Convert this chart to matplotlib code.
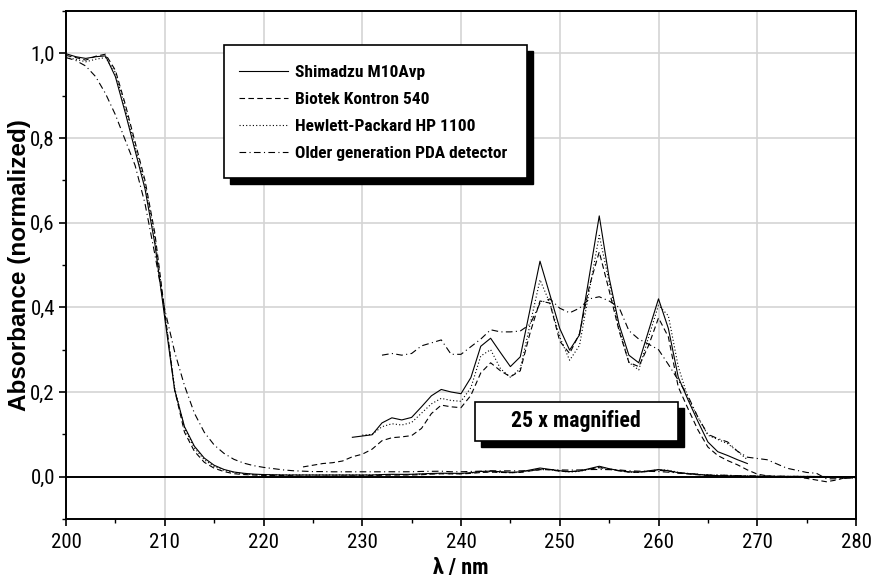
import matplotlib
matplotlib.use("Agg")
import matplotlib.pyplot as plt
from matplotlib import font_manager
from matplotlib.patches import Rectangle
from matplotlib.ticker import MultipleLocator, FuncFormatter
import numpy as np

# pick a narrow Arial-like face if one is installed, else regular Liberation Sans
narrow = None
for cand in ['Liberation Sans Narrow', 'Arial Narrow', 'Roboto Condensed']:
    try:
        font_manager.findfont(font_manager.FontProperties(family=cand), fallback_to_default=False)
        narrow = cand
        break
    except ValueError:
        pass
plt.rcParams['font.family'] = ['Liberation Sans', 'DejaVu Sans']
txt_family = [narrow, 'Liberation Sans', 'DejaVu Sans'] if narrow else ['Liberation Sans', 'DejaVu Sans']
k = 1.0 if narrow else 0.82   # size factor when no narrow face exists

# ---------------- data ----------------
wl = np.arange(200, 281)  # nm, full spectra

shimadzu = [0.999, 0.992, 0.988, 0.992, 0.994, 0.945, 0.86, 0.77, 0.68, 0.55,
            0.375, 0.205, 0.118, 0.072, 0.044, 0.027, 0.017, 0.011, 0.008, 0.006,
            0.005, 0.0045, 0.004, 0.004, 0.004, 0.004, 0.004, 0.004, 0.004, 0.004,
            0.004, 0.004, 0.005, 0.0056, 0.0054, 0.0056, 0.0066, 0.0076, 0.0082, 0.008,
            0.0078, 0.0094, 0.0123, 0.0131, 0.0117, 0.0104, 0.0113, 0.0158, 0.0204, 0.0172,
            0.014, 0.012, 0.0134, 0.019, 0.0246, 0.0188, 0.0144, 0.0115, 0.0108, 0.0138,
            0.0168, 0.014, 0.0094, 0.0072, 0.0052, 0.0033, 0.0024, 0.002, 0.0016, 0.0012,
            0.001, 0.0009, 0.0008, 0.0007, 0.0006, 0.0005, 0.0004, 0.0003, 0.0002, 0.0001, 0.0]

biotek = [0.995, 0.99, 0.984, 0.993, 0.998, 0.96, 0.88, 0.79, 0.70, 0.575,
          0.39, 0.205, 0.105, 0.06, 0.034, 0.02, 0.012, 0.007, 0.005, 0.004,
          0.003, 0.003, 0.003, 0.002, 0.001, 0.0011, 0.0012, 0.0013, 0.0015, 0.0019,
          0.0021, 0.0026, 0.0034, 0.0037, 0.0038, 0.0039, 0.0046, 0.006, 0.0068, 0.0066,
          0.0065, 0.0077, 0.0098, 0.0108, 0.01, 0.0094, 0.01, 0.0136, 0.0166, 0.0164,
          0.0128, 0.0116, 0.0135, 0.018, 0.0212, 0.0176, 0.0138, 0.0108, 0.0104, 0.0124,
          0.015, 0.0132, 0.0085, 0.0064, 0.0044, 0.0028, 0.002, 0.0015, 0.0011, 0.0006,
          0.0002, 0.0001, 0.0, -0.0001, -0.0001, -0.0002, -0.0003, -0.0004, -0.0003, -0.0001, -0.0002]

hp1100 = [0.99, 0.986, 0.98, 0.986, 0.99, 0.955, 0.87, 0.78, 0.69, 0.565,
          0.385, 0.21, 0.114, 0.068, 0.04, 0.024, 0.015, 0.01, 0.007, 0.005,
          0.0045, 0.004, 0.004, 0.004, 0.004, 0.004, 0.004, 0.004, 0.004, 0.004,
          0.0039, 0.004, 0.0047, 0.005, 0.0049, 0.0051, 0.006, 0.0069, 0.0074, 0.0072,
          0.0071, 0.0084, 0.0114, 0.012, 0.0102, 0.0094, 0.0102, 0.0144, 0.0186, 0.0164,
          0.0132, 0.011, 0.0124, 0.0176, 0.0228, 0.0184, 0.014, 0.0108, 0.0101, 0.0132,
          0.0162, 0.0152, 0.0104, 0.0074, 0.0056, 0.0039, 0.0035, 0.0031, 0.0024, 0.0016,
          0.001, 0.0009, 0.0008, 0.0007, 0.0006, 0.0005, 0.0004, 0.0003, 0.0002, 0.0001, 0.0]

pda_old = [0.99, 0.983, 0.97, 0.945, 0.905, 0.855, 0.795, 0.735, 0.645, 0.525,
           0.395, 0.295, 0.215, 0.15, 0.105, 0.075, 0.055, 0.041, 0.032, 0.026,
           0.022, 0.019, 0.016, 0.014, 0.013, 0.012, 0.012, 0.0115, 0.0115, 0.0115,
           0.0115, 0.0115, 0.0115, 0.0116, 0.0115, 0.0116, 0.0124, 0.0126, 0.0129, 0.0116,
           0.0116, 0.0123, 0.013, 0.0139, 0.0137, 0.0137, 0.0138, 0.0144, 0.0164, 0.0168,
           0.0159, 0.0155, 0.0159, 0.0168, 0.017, 0.0166, 0.016, 0.0138, 0.013, 0.0125,
           0.012, 0.0106, 0.0091, 0.0076, 0.0056, 0.004, 0.0036, 0.0033, 0.0024, 0.0018,
           0.0017, 0.0016, 0.0012, 0.0008, 0.0006, 0.0004, 0.0003, -0.0002, -0.0002, -0.0002, -0.0001]

# 25 x magnified sections
wl_shimadzu_mag = np.arange(229, 270)
shimadzu_mag = [0.093, 0.096, 0.099, 0.127, 0.139, 0.134, 0.140, 0.165, 0.191, 0.206,
                0.200, 0.196, 0.234, 0.308, 0.327, 0.293, 0.260, 0.283, 0.396, 0.509,
                0.430, 0.350, 0.299, 0.335, 0.475, 0.616, 0.470, 0.360, 0.287, 0.269,
                0.345, 0.420, 0.350, 0.235, 0.181, 0.130, 0.082, 0.059, 0.050, 0.040, 0.031]

wl_biotek_mag = np.arange(224, 281)
biotek_mag = [0.023, 0.027, 0.031, 0.033, 0.037, 0.047, 0.053, 0.065, 0.085, 0.092,
              0.094, 0.097, 0.114, 0.149, 0.169, 0.165, 0.163, 0.192, 0.245, 0.269,
              0.250, 0.236, 0.250, 0.340, 0.415, 0.410, 0.320, 0.291, 0.338, 0.450,
              0.531, 0.440, 0.345, 0.270, 0.260, 0.310, 0.375, 0.330, 0.212, 0.160,
              0.110, 0.070, 0.050, 0.038, 0.028, 0.016, 0.006, 0.002, 0.000, -0.002,
              -0.001, -0.004, -0.008, -0.012, -0.008, -0.002, -0.004]

wl_hp_mag = np.arange(230, 270)
hp1100_mag = [0.098, 0.100, 0.118, 0.125, 0.122, 0.128, 0.150, 0.172, 0.185, 0.180,
              0.178, 0.210, 0.285, 0.300, 0.255, 0.235, 0.255, 0.360, 0.465, 0.410,
              0.330, 0.275, 0.310, 0.440, 0.570, 0.460, 0.350, 0.270, 0.252, 0.330,
              0.405, 0.380, 0.260, 0.185, 0.140, 0.098, 0.088, 0.078, 0.060, 0.040]

wl_pda_mag = np.arange(232, 281)
pda_old_mag = [0.287, 0.291, 0.287, 0.291, 0.309, 0.316, 0.323, 0.289, 0.289, 0.307,
               0.325, 0.347, 0.342, 0.342, 0.344, 0.360, 0.410, 0.420, 0.398, 0.387,
               0.398, 0.420, 0.425, 0.415, 0.400, 0.345, 0.325, 0.313, 0.300, 0.265,
               0.228, 0.190, 0.140, 0.100, 0.090, 0.082, 0.060, 0.046, 0.043, 0.040,
               0.030, 0.020, 0.015, 0.010, 0.008, -0.005, -0.005, -0.004, -0.002]

labels = ["Shimadzu M10Avp", "Biotek Kontron 540",
          "Hewlett-Packard HP 1100", "Older generation PDA detector"]
x_ticks = [200, 210, 220, 230, 240, 250, 260, 270, 280]
y_ticks = [0.0, 0.2, 0.4, 0.6, 0.8, 1.0]

# ---------------- figure ----------------
W, H = 874, 582
fig = plt.figure(figsize=(W / 100, H / 100), dpi=100)
AX_L, AX_R, AX_T, AX_B = 66, 856, 11, 519
ax = fig.add_axes([AX_L / W, 1 - AX_B / H, (AX_R - AX_L) / W, (AX_B - AX_T) / H])

styles = [dict(ls='-'), dict(ls=(0, (5, 3))), dict(ls=(0, (1, 2))), dict(ls=(0, (6, 3, 1, 3)))]
lw = 0.8
handles = []
for y, st in zip([shimadzu, biotek, hp1100, pda_old], styles):
    h, = ax.plot(wl, y, color='black', lw=lw, **st)
    handles.append(h)
for x, y, st in zip([wl_shimadzu_mag, wl_biotek_mag, wl_hp_mag, wl_pda_mag],
                    [shimadzu_mag, biotek_mag, hp1100_mag, pda_old_mag], styles):
    ax.plot(x, y, color='black', lw=lw, **st)

ax.axhline(0, color='black', lw=1.4, zorder=3)

ax.set_xlim(200, 280)
ax.set_ylim(-0.1, 1.1)
ax.set_xticks(x_ticks)
ax.set_yticks(y_ticks)
ax.xaxis.set_minor_locator(MultipleLocator(5))
ax.yaxis.set_minor_locator(MultipleLocator(0.1))
ax.yaxis.set_major_formatter(FuncFormatter(lambda v, p: f"{v:.1f}".replace('.', ',')))
ax.grid(True, which='major', color='#d4d4d4', lw=1.2)
ax.set_axisbelow(True)
ax.tick_params(which='major', direction='out', length=5, width=1.2, pad=5)
ax.tick_params(axis='y', which='major', pad=3)
ax.tick_params(which='minor', direction='out', length=3, width=1.0)
for lab in ax.get_xticklabels() + ax.get_yticklabels():
    lab.set_family(txt_family)
    lab.set_fontsize(15 * k)
for s in ax.spines.values():
    s.set_linewidth(1.4)

axw, axh = AX_R - AX_L, AX_B - AX_T
ax.set_xlabel("λ / nm", fontsize=16 * k, fontweight='bold', family=txt_family)
ax.xaxis.set_label_coords(0.5, (AX_B - 568) / axh)
ax.xaxis.label.set_va('center')
ax.set_ylabel("Absorbance (normalized)", fontsize=17.5, fontweight='bold',
              family=['Liberation Sans', 'DejaVu Sans'])
ax.yaxis.set_label_coords((31 - AX_L) / axw, 0.5)

# boxes with shadow (pixel coords)
def pbox(x0, y0, x1, y1):
    return (x0 / W, 1 - y1 / H, (x1 - x0) / W, (y1 - y0) / H)

for (x0, y0, x1, y1), sh in [((224, 45, 527, 178), 6), ((475, 402, 678, 441), 6)]:
    bx, by, bw, bh = pbox(x0 + sh, y0 + sh, x1 + sh, y1 + sh)
    fig.add_artist(Rectangle((bx, by), bw, bh, transform=fig.transFigure,
                             facecolor='black', edgecolor='black', zorder=5))
    bx, by, bw, bh = pbox(x0, y0, x1, y1)
    fig.add_artist(Rectangle((bx, by), bw, bh, transform=fig.transFigure,
                             facecolor='white', edgecolor='black', lw=1.2, zorder=6))

leg_size = 12.5 * k
fpx = leg_size * 100 / 72
leg = fig.legend(handles, labels, loc='upper left', bbox_to_anchor=(239 / W, 1 - 65 / H),
                 frameon=False, prop={'weight': 'bold', 'size': leg_size, 'family': txt_family},
                 handlelength=49 / fpx, handletextpad=7 / fpx,
                 labelspacing=11.8 / fpx, borderpad=0, borderaxespad=0)
leg.set_zorder(7)

fig.text(576 / W, 1 - 421 / H, "25 x magnified", ha='center', va='center',
         fontsize=15.7 * k, fontweight='bold', family=txt_family, zorder=7)

fig.savefig("out.png", dpi=100)
